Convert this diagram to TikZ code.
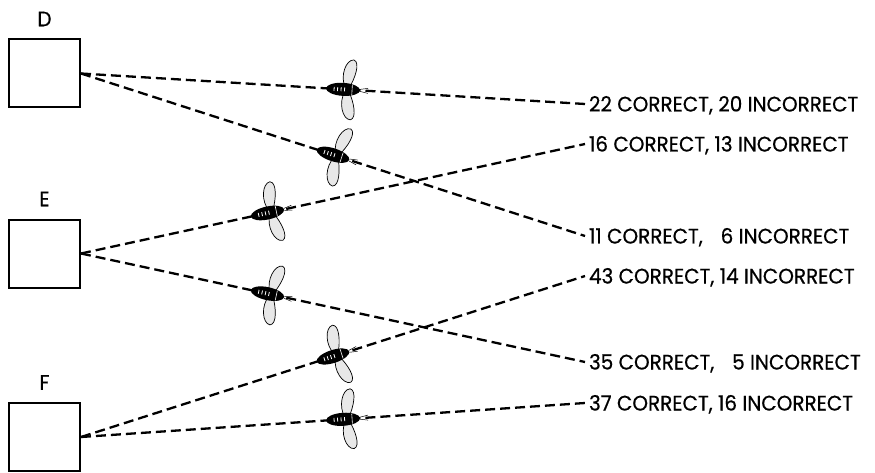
\documentclass[tikz,border=0pt]{standalone}
\usepackage{fontspec}
\setmainfont{Poppins}[FakeBold=0.6, FakeStretch=0.95]
\usetikzlibrary{positioning}

\tikzset{
  cage/.style={draw, line width=2pt, minimum width=71pt, minimum height=68pt, inner sep=0pt},
  letter/.style={inner sep=0pt, text height=15pt, text depth=0pt, font=\fontsize{21}{24}\selectfont},
  tally/.style={anchor=west, inner sep=0pt, outer sep=4pt, text height=15pt, text depth=0pt,
    font=\fontsize{21}{24}\selectfont},
  flight/.style={line width=2.3pt, dash pattern=on 10pt off 5pt},
  wing/.style={draw=black, line width=0.7pt, fill=gray!18},
  bee/.pic={
    % wings first, body on top
    \foreach \s in {1,-1}
      \draw[wing, yscale=\s] (2,2) .. controls (-4,13) and (1,30) .. (9,30) .. controls (16,28) and (11,11) .. (6,2) -- cycle;
    \fill[black] (0,0) ellipse [x radius=17, y radius=6.5];
    \foreach \t in {-9,-5.5,-2,1.5}
      \draw[white, line width=0.8pt] (\t,-2) -- (\t,2);
    \draw[white, line width=0.6pt] (9,-5) -- (9,5);
    \draw[line width=0.5pt] (17,1) -- (25,2.5) (17,-1) -- (25,-2.5);
  }
}

\begin{document}
\begin{tikzpicture}[x=1pt,y=-1pt]
\useasboundingbox (0,0) rectangle (875,473);

% the three starting boxes
\node[cage] (boxD) at (44.5,73.5) {};
\node[cage] (boxE) at (44.5,253.5) {};
\node[cage] (boxF) at (44.5,437) {};
\node[letter, above=12pt of boxD] (nameD) {D};
\node[letter, above=12pt of boxE] (nameE) {E};
\node[letter, above=12pt of boxF] (nameF) {F};

% scores at the far end
\node[tally] (t22) at (585,104) {22 CORRECT, 20 INCORRECT};
\node[tally] (t16) at (585,144) {16 CORRECT, 13 INCORRECT};
\node[tally] (t11) at (585,236) {11 CORRECT, \phantom{0}6 INCORRECT};
\node[tally] (t43) at (585,276) {43 CORRECT, 14 INCORRECT};
\node[tally] (t35) at (585,362) {35 CORRECT, \phantom{0}5 INCORRECT};
\node[tally] (t37) at (585,403) {37 CORRECT, 16 INCORRECT};

% flight paths
\draw[flight] (boxD.east) -- (t22.west);
\draw[flight] (boxD.east) -- (t11.west);
\draw[flight] (boxE.east) -- (t16.west);
\draw[flight] (boxE.east) -- (t35.west);
\draw[flight] (boxF.east) -- (t43.west);
\draw[flight] (boxF.east) -- (t37.west);

% one bee on each path
\path (boxD.east) -- (t22.west) pic[pos=.52, sloped] {bee};
\path (boxD.east) -- (t11.west) pic[pos=.50, sloped] {bee};
\path (boxE.east) -- (t16.west) pic[pos=.37, sloped] {bee};
\path (boxE.east) -- (t35.west) pic[pos=.37, sloped] {bee};
\path (boxF.east) -- (t43.west) pic[pos=.50, sloped] {bee};
\path (boxF.east) -- (t37.west) pic[pos=.52, sloped] {bee};
\end{tikzpicture}
\end{document}
